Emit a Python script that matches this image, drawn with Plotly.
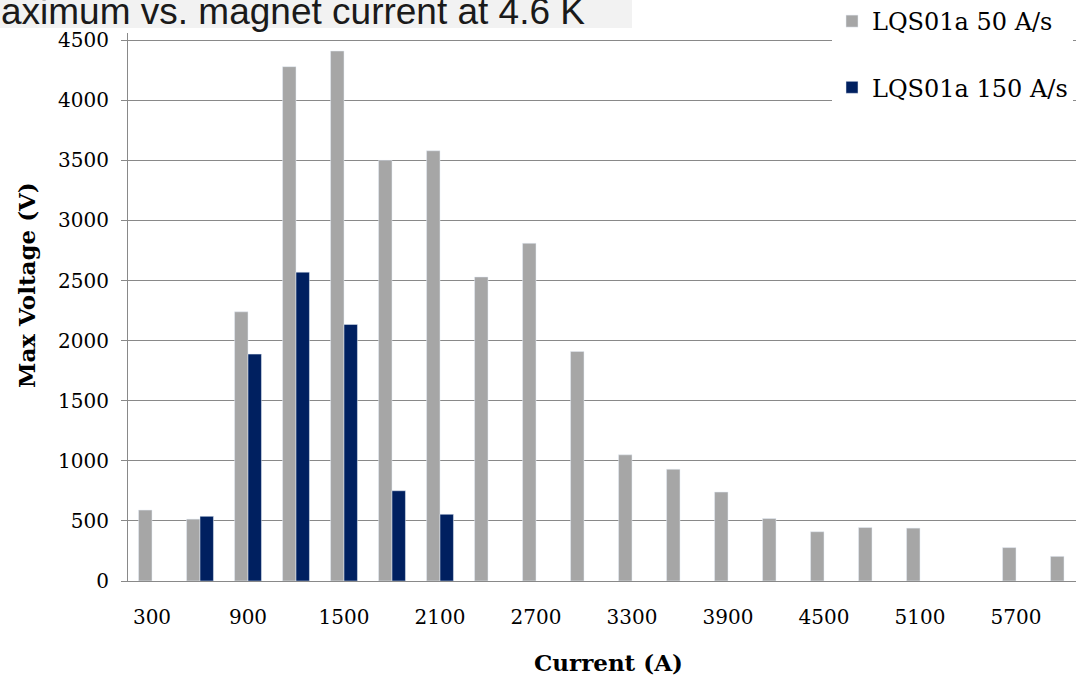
import plotly.graph_objects as go

# ---- data ----
currents = ["300", "600", "900", "1200", "1500", "1800", "2100", "2400", "2700", "3000",
            "3300", "3600", "3900", "4200", "4500", "4800", "5100", "5400", "5700", "6000"]
v_50 = [590, 515, 2240, 4280, 4410, 3500, 3580, 2530, 2810, 1910,
        1050, 930, 740, 520, 410, 445, 440, None, 278, 205]
v_150 = [None, 538, 1888, 2570, 2135, 751, 555, None, None, None,
         None, None, None, None, None, None, None, None, None, None]
tick_labels = ["300", "900", "1500", "2100", "2700", "3300", "3900", "4500", "5100", "5700"]
y_ticks = [0, 500, 1000, 1500, 2000, 2500, 3000, 3500, 4000, 4500]

title_text = "aximum vs. magnet current at 4.6 K"
series_names = ["LQS01a 50 A/s", "LQS01a 150 A/s"]

W, H = 1076, 677
L, R, T, B = 128, 0, 33, 96
PW, PH = W - L - R, H - T - B


def px_x(p):
    return (p - L) / PW


def px_y(p):
    return (H - B - p) / PH


AX = "#898989"
SERIF = "DejaVu Serif"

fig = go.Figure()
fig.add_trace(go.Bar(x=currents, y=v_50, name=series_names[0], marker_color="#a6a6a6",
                     legendgroup="a"))
fig.add_trace(go.Bar(x=currents, y=v_150, name=series_names[1], marker_color="#002060",
                     legendgroup="b"))

x_range = [-0.5, 19.25]

fig.update_layout(
    width=W, height=H,
    margin=dict(l=L, r=R, t=T, b=B, autoexpand=False),
    paper_bgcolor="white", plot_bgcolor="white",
    barmode="group", bargap=0.44, bargroupgap=0,
    showlegend=True,
    legend=dict(x=px_x(832), xanchor="left", y=px_y(-1), yanchor="top",
                bgcolor="white", font=dict(family=SERIF, size=24, color="black"),
                traceorder="grouped", tracegroupgap=32),
    xaxis=dict(type="category", range=x_range, tickmode="array", tickvals=tick_labels,
               ticktext=tick_labels, ticks="", showgrid=False, showline=True,
               linecolor=AX, linewidth=1, zeroline=False,
               tickfont=dict(family=SERIF, size=20, color="black"),
               ticklabelstandoff=18),
    xaxis2=dict(overlaying="x", anchor="y", range=x_range, tick0=-0.5, dtick=1,
                ticks="outside", ticklen=6, tickcolor=AX, tickwidth=1,
                showticklabels=False, showgrid=False, showline=False, zeroline=False),
    yaxis=dict(range=[0, 4560], tickmode="array", tickvals=y_ticks, showgrid=True,
               gridcolor=AX, gridwidth=1, showline=True, linecolor=AX, linewidth=1,
               zeroline=False, ticks="outside", ticklen=6, tickcolor=AX,
               tickfont=dict(family=SERIF, size=20, color="black"),
               ticklabelstandoff=8),
    shapes=[dict(type="rect", xref="paper", yref="paper", x0=px_x(-2), x1=px_x(632),
                 y0=px_y(28), y1=px_y(-5), fillcolor="#f2f2f2", line=dict(width=0),
                 layer="above")],
    annotations=[
        dict(text=title_text, xref="paper", yref="paper", x=px_x(-1), y=px_y(34.5),
             xanchor="left", yanchor="bottom", showarrow=False,
             font=dict(family="Liberation Sans", size=37, color="#1a1a1a")),
        dict(text="<b>Max Voltage (V)</b>", xref="paper", yref="paper", x=px_x(26),
             y=px_y(285), xanchor="center", yanchor="middle", textangle=-90,
             showarrow=False, font=dict(family=SERIF, size=23, color="black")),
        dict(text="<b>Current (A)</b>", xref="paper", yref="paper", x=px_x(608),
             y=px_y(662), xanchor="center", yanchor="middle", showarrow=False,
             font=dict(family=SERIF, size=23, color="black")),
    ],
)

fig.write_html("out.html", config={"displayModeBar": False},
               post_script="document.body.style.margin='0';")
